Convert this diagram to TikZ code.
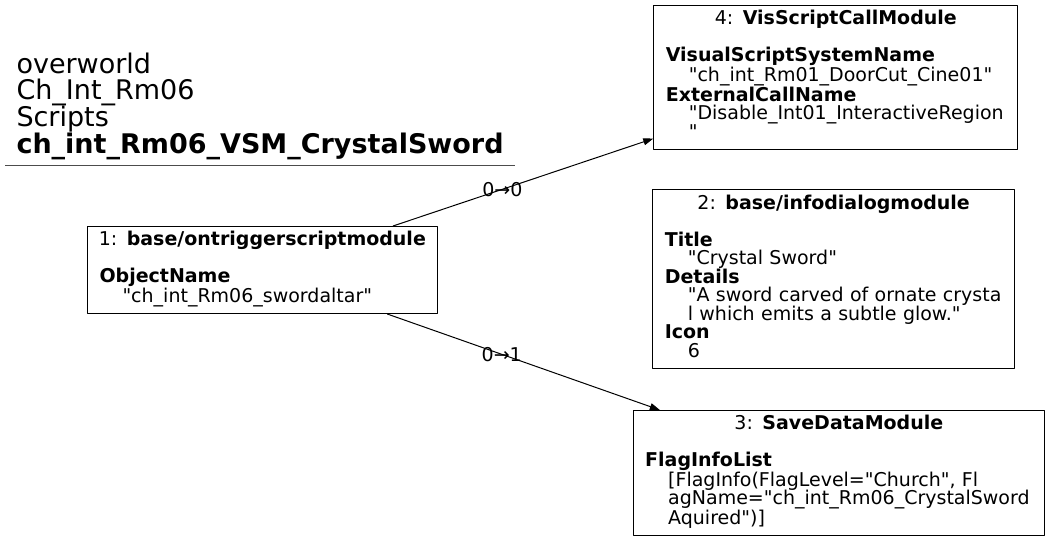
\documentclass[tikz,border=0pt]{standalone}
\usepackage{fontspec}
\setmainfont{DejaVu Sans}[Ligatures=TeXOff]
\usetikzlibrary{arrows.meta}
\lineskiplimit=-20pt
\begin{document}
\begin{tikzpicture}[x=1pt, y=-1pt, line width=1pt, line join=round, >={Triangle[length=10pt,width=7pt]},
	box/.style={draw, anchor=north west, inner xsep=12pt, inner ysep=5pt, align=left,
		font=\fontsize{19}{18.5}\selectfont},
	lbl/.style={font=\fontsize{19}{18.5}\selectfont, inner sep=1pt}]
	\def\hd#1{\makebox[\linewidth]{#1}}
	\def\ind{\hspace*{23pt}}
	\def\dn{\rule[-6pt]{0pt}{6pt}}
	\useasboundingbox (0,0) rectangle (1049,539);
	\node[anchor=north west, inner sep=0pt, align=left, font=\fontsize{27}{26.7}\selectfont] (title) at (16,52)
		{overworld\\Ch\_Int\_Rm06\\Scripts\\\textbf{ch\_int\_Rm06\_VSM\_CrystalSword}};
	\draw[line width=1.3pt, black!70] (5,165.8)--(515,165.8);
	\node[box, text width=325.7pt] (m1) at (87,226)
		{\hd{1: \textbf{base/ontriggerscriptmodule}}\\ \mbox{}\\ \textbf{ObjectName}\\ \ind"ch\_int\_Rm06\_swordaltar"\dn};
	\node[box, text width=340pt] (m4) at (653.3,5)
		{\hd{4: \textbf{VisScriptCallModule}}\\ \mbox{}\\ \textbf{VisualScriptSystemName}\\ \ind"ch\_int\_Rm01\_DoorCut\_Cine01"\\
		\textbf{ExternalCallName}\\ \ind"Disable\_Int01\_InteractiveRegion\\ \ind"\dn};
	\node[box, text width=337.7pt] (m2) at (652.3,189.3)
		{\hd{2: \textbf{base/infodialogmodule}}\\ \mbox{}\\ \textbf{Title}\\ \ind"Crystal Sword"\\ \textbf{Details}\\
		\ind"A sword carved of ornate crysta\\ \ind l which emits a subtle glow."\\ \textbf{Icon}\\ \ind 6\dn};
	\node[box, text width=387.3pt] (m3) at (632.7,410)
		{\hd{3: \textbf{SaveDataModule}}\\ \mbox{}\\ \textbf{FlagInfoList}\\ \ind[FlagInfo(FlagLevel="Church", Fl\\
		\ind agName="ch\_int\_Rm06\_CrystalSword\\ \ind Aquired")]\dn};
	\draw[->] (m1)--node[lbl, pos=0.42]{0→0}(m4);
	\draw[->] (m1)--node[lbl, pos=0.42]{0→1}(m3);
\end{tikzpicture}
\end{document}
